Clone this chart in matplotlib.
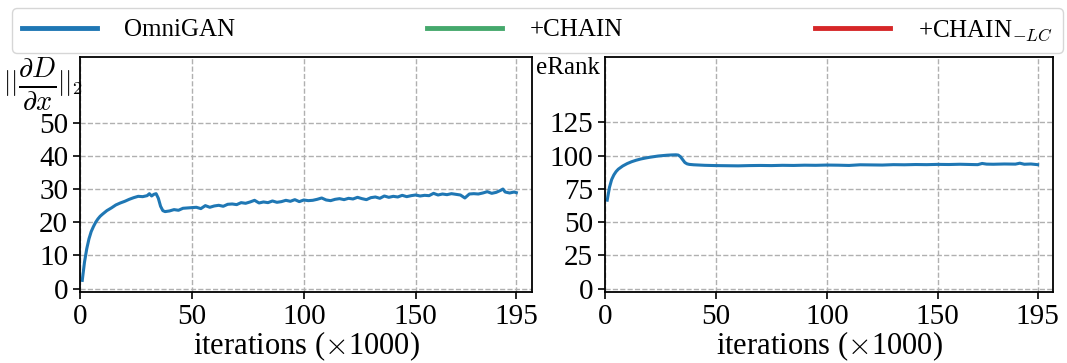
import numpy as np
import matplotlib
matplotlib.use("Agg")
import matplotlib.pyplot as plt

plt.rcParams['font.family'] = ['Liberation Serif', 'DejaVu Serif']
plt.rcParams['mathtext.fontset'] = 'cm'

# gradient norm ||dD/dx||_2 (iterations in thousands)
grad_iters = [1, 2, 3, 4, 5, 6, 7, 8, 9, 10, 12, 14, 16, 18, 20, 22, 24, 26, 28, 30,
              31, 32, 33, 34, 35, 36, 37, 38, 40, 42, 44, 46, 48, 50, 52, 54, 56, 58,
              60, 62, 64, 66, 68, 70, 72, 74, 76, 78, 80, 82, 84, 86, 88, 90, 92, 94,
              96, 98, 100, 102, 104, 106, 108, 110, 112, 114, 116, 118, 120, 122, 124,
              126, 128, 130, 132, 134, 136, 138, 140, 142, 144, 146, 148, 150, 152, 154,
              156, 158, 160, 162, 164, 166, 168, 170, 172, 174, 176, 178, 180, 182, 184,
              186, 188, 189, 190, 192, 194, 195]
grad_omnigan = [2.5, 8.0, 12.0, 15.0, 17.2, 18.7, 20.0, 21.0, 21.8, 22.4, 23.5, 24.3, 25.2,
                25.8, 26.3, 26.9, 27.4, 27.8, 27.7, 28.0, 28.6, 27.9, 28.4, 28.6, 27.2,
                24.8, 23.5, 23.2, 23.4, 23.8, 23.6, 24.2, 24.3, 24.4, 24.5, 24.1, 25.0,
                24.5, 24.9, 25.1, 24.8, 25.4, 25.5, 25.3, 25.9, 25.7, 26.1, 26.6, 25.8,
                26.1, 25.9, 26.4, 26.0, 26.2, 26.6, 26.3, 26.8, 26.2, 26.7, 26.5, 26.6,
                26.9, 27.3, 26.7, 26.5, 26.9, 27.1, 26.8, 27.2, 27.0, 27.5, 27.1, 26.8,
                27.4, 27.6, 27.2, 27.9, 27.5, 27.8, 27.6, 28.1, 27.7, 28.0, 28.2, 27.9,
                28.1, 28.0, 28.7, 28.2, 28.5, 28.3, 28.6, 28.4, 28.2, 27.3, 28.5, 28.6,
                28.5, 28.8, 29.2, 28.7, 29.0, 29.6, 30.0, 29.1, 28.8, 29.1, 28.9]

# effective rank
erank_iters = [1, 2, 3, 4, 5, 6, 8, 10, 12, 14, 16, 18, 20, 22, 24, 26, 28, 30, 32, 33,
               34, 35, 36, 37, 38, 40, 45, 50, 55, 60, 65, 70, 75, 80, 85, 90, 95, 100,
               105, 110, 115, 120, 125, 130, 135, 140, 145, 150, 155, 160, 165, 168,
               170, 172, 175, 180, 185, 187, 189, 192, 195]
erank_omnigan = [66.5, 76.0, 82.0, 85.5, 88.0, 89.8, 92.2, 94.0, 95.4, 96.5, 97.4, 98.1,
                 98.7, 99.2, 99.7, 100.0, 100.3, 100.5, 100.6, 100.4, 99.2, 97.0, 94.8,
                 93.8, 93.4, 93.1, 92.7, 92.5, 92.4, 92.3, 92.5, 92.6, 92.5, 92.7, 92.6,
                 92.8, 92.7, 92.9, 92.8, 92.6, 93.1, 93.0, 92.9, 93.2, 93.1, 93.3, 93.2,
                 93.4, 93.3, 93.5, 93.3, 93.2, 94.1, 93.6, 93.5, 93.7, 93.6, 94.3, 93.5,
                 93.7, 93.2]

labels = ['OmniGAN', '+CHAIN', r'+CHAIN$_{-LC}$']
colors = ['#1f77b4', '#45a86c', '#d62728']
xticks = [0, 50, 100, 150, 195]

fig = plt.figure(figsize=(10.67, 3.63), dpi=100)
ax1 = fig.add_axes([0.075, 0.1956, 0.4236, 0.647])
ax2 = fig.add_axes([0.567, 0.1956, 0.42, 0.647])

ax1.plot(grad_iters, grad_omnigan, color=colors[0], lw=2.2)
ax2.plot(erank_iters, erank_omnigan, color=colors[0], lw=2.2)

ax1.set_ylim(-1, 69.7)
ax1.set_yticks([0, 10, 20, 30, 40, 50])
ax2.set_ylim(-2.5, 174)
ax2.set_yticks([0, 25, 50, 75, 100, 125])

for ax in (ax1, ax2):
    ax.set_xlim(0, 202)
    ax.set_xticks(xticks)
    ax.grid(True, ls='--', color='#b0b0b0', lw=1)
    ax.tick_params(labelsize=21, length=5, width=1.2)
    ax.set_xlabel(r'iterations ($\times$1000)', fontsize=22, labelpad=0)
    for s in ax.spines.values():
        s.set_linewidth(1.3)

# y label of the left panel: ||dD/dx||_2 with a full-size fraction
ax1.text(-0.155, 0.955, r'$||$', fontsize=19, ha='center', va='top',
         transform=ax1.transAxes)
ax1.text(-0.094, 0.885, r'$\frac{\partial D}{\partial x}$', fontsize=29,
         ha='center', va='center', transform=ax1.transAxes)
ax1.text(-0.052, 0.955, r'$||_2$', fontsize=19, ha='left', va='top',
         transform=ax1.transAxes)

ax2.set_ylabel('eRank', fontsize=18, rotation=0, ha='center', va='center')
ax2.yaxis.set_label_coords(-0.083, 0.953)

handles = [plt.Line2D([], [], color=c, lw=3.5) for c in colors]
fig.legend(handles, labels, ncol=3, mode='expand', loc='lower left',
           bbox_to_anchor=(0.011, 0.855, 0.985, 0.135), fontsize=18,
           handlelength=3.0, handletextpad=1.1, borderaxespad=0)

fig.savefig('out.png', dpi=100)
